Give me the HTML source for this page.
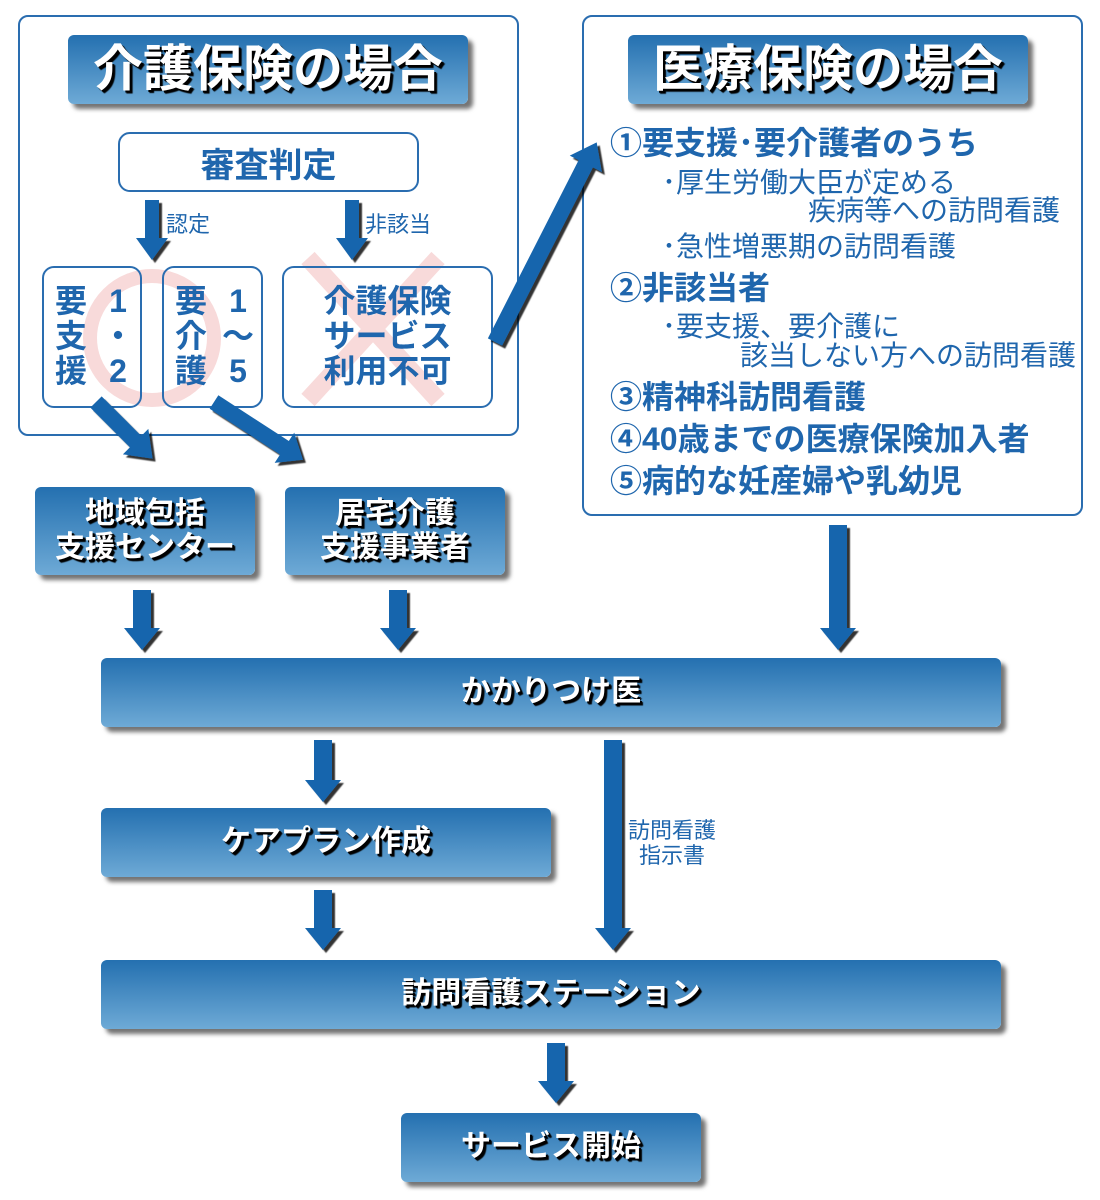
<!DOCTYPE html>
<html><head><meta charset="utf-8"><style>
body{margin:0;width:1100px;height:1200px;background:#fff;position:relative;overflow:hidden;font-family:"Liberation Sans","Noto Sans CJK JP",sans-serif}
.a{position:absolute;white-space:nowrap}
.panel{position:absolute;border:2px solid #2a6db0;border-radius:10px;box-sizing:border-box}
.bar{position:absolute;background:linear-gradient(#2470b0,#6eaad6);border-radius:6px;box-shadow:5px 5px 4px rgba(0,0,0,.55);color:#fff;font-weight:bold;display:flex;align-items:center;justify-content:center;text-shadow:2px 2px 0 #000,3px 3px 1px #000;text-align:center;line-height:1.15}
.box{position:absolute;border:2px solid #2a6db0;border-radius:12px;box-sizing:border-box;color:#1f66ad;font-weight:bold}
.t{position:absolute;white-space:nowrap;color:#1f66ad;line-height:1}
.b{font-weight:bold;font-size:32px}
.n{font-size:28px}
</style></head><body>
<div class="panel" style="left:18px;top:15px;width:501px;height:421px"></div>
<div class="panel" style="left:582px;top:15px;width:501px;height:501px"></div>

<div class="bar" style="left:68px;top:35px;width:400px;height:69px;font-size:50px">介護保険の場合</div>
<div class="bar" style="left:628px;top:35px;width:400px;height:69px;font-size:50px">医療保険の場合</div>

<div class="box" style="left:118px;top:132px;width:301px;height:60px;display:flex;align-items:center;justify-content:center;font-size:34px">審査判定</div>
<div class="t" style="left:166px;top:214px;font-size:22px">認定</div>
<div class="t" style="left:365px;top:214px;font-size:22px">非該当</div>

<svg class="a" style="left:0;top:0" width="1100" height="1200">
<circle cx="152" cy="338" r="62" fill="none" stroke="#f8dada" stroke-width="14"/>
<g stroke="#f8dada" stroke-width="18"><line x1="308" y1="258" x2="438" y2="400"/><line x1="438" y1="258" x2="308" y2="400"/></g>
</svg>
<div class="box" style="left:42px;top:266px;width:100px;height:142px"></div>
<div class="box" style="left:162px;top:266px;width:101px;height:142px"></div>
<div class="box" style="left:282px;top:266px;width:211px;height:142px"></div>
<div class="t" style="left:55px;top:284px;font-size:32px;font-weight:bold;line-height:35px">要<br>支<br>援</div>
<div class="t" style="left:102px;top:284px;font-size:32px;font-weight:bold;line-height:35px;text-align:center">1<br>・<br>2</div>
<div class="t" style="left:175px;top:284px;font-size:32px;font-weight:bold;line-height:35px">要<br>介<br>護</div>
<div class="t" style="left:222px;top:284px;font-size:32px;font-weight:bold;line-height:35px;text-align:center">1<br>～<br>5</div>
<div class="t" style="left:282px;top:284px;width:211px;text-align:center;font-size:32px;font-weight:bold;line-height:35px">介護保険<br>サービス<br>利用不可</div>

<svg class="a" style="left:0;top:0" width="1100" height="1200">
<defs><filter id="sh"><feDropShadow dx="3" dy="3" stdDeviation="0.6" flood-color="#000" flood-opacity="0.8"/></filter></defs>
<g fill="#1565ad" filter="url(#sh)">
<polygon points="145,200 159,200 159,238 168,238 152,260 136,238 145,238"/>
<polygon points="345,200 359,200 359,238 368,238 352,260 336,238 345,238"/>
<polygon points="133,590 151,590 151,628 160,628 142,650 124,628 133,628"/>
<polygon points="389,590 407,590 407,628 416,628 398,650 380,628 389,628"/>
<polygon points="829,525 847,525 847,628 856,628 838,650 820,628 829,628"/>
<polygon points="314,740 332,740 332,780 341,780 323,802 305,780 314,780"/>
<polygon points="604,740 622,740 622,928 631,928 613,950 595,928 604,928"/>
<polygon points="314,890 332,890 332,928 341,928 323,950 305,928 314,928"/>
<polygon points="547,1043 565,1043 565,1081 574,1081 556,1103 538,1081 547,1081"/>
<g transform="translate(96,402) rotate(-45)"><polygon points="-8,0 8,0 8,56 18,56 0,80 -18,56 -8,56"/></g>
<g transform="translate(214,402) rotate(-57)"><polygon points="-8,0 8,0 8,84 18,84 0,106 -18,84 -8,84"/></g>
<g transform="translate(495,342) rotate(-153)"><polygon points="-8,0 8,0 8,200 18,200 0,224 -18,200 -8,200"/></g>
</g>
</svg>

<div class="t" style="left:628px;top:818px;font-size:22px;line-height:25px;text-align:center">訪問看護<br>指示書</div>

<div class="bar" style="left:35px;top:487px;width:220px;height:88px;font-size:30px">地域包括<br>支援センター</div>
<div class="bar" style="left:285px;top:487px;width:220px;height:88px;font-size:30px">居宅介護<br>支援事業者</div>
<div class="bar" style="left:101px;top:658px;width:900px;height:69px;font-size:30px">かかりつけ医</div>
<div class="bar" style="left:101px;top:808px;width:450px;height:69px;font-size:30px">ケアプラン作成</div>
<div class="bar" style="left:101px;top:960px;width:900px;height:69px;font-size:30px">訪問看護ステーション</div>
<div class="bar" style="left:401px;top:1113px;width:300px;height:69px;font-size:30px">サービス開始</div>

<div class="t b" style="left:610px;top:127px">①要支援･要介護者のうち</div>
<div class="t n" style="left:662px;top:169px">･厚生労働大臣が定める</div>
<div class="t n" style="left:808px;top:197px">疾病等への訪問看護</div>
<div class="t n" style="left:662px;top:233px">･急性増悪期の訪問看護</div>
<div class="t b" style="left:610px;top:272px">②非該当者</div>
<div class="t n" style="left:662px;top:313px">･要支援、要介護に</div>
<div class="t n" style="left:740px;top:342px">該当しない方への訪問看護</div>
<div class="t b" style="left:610px;top:381px">③精神科訪問看護</div>
<div class="t b" style="left:610px;top:423px">④40歳までの医療保険加入者</div>
<div class="t b" style="left:610px;top:465px">⑤病的な妊産婦や乳幼児</div>
</body></html>
